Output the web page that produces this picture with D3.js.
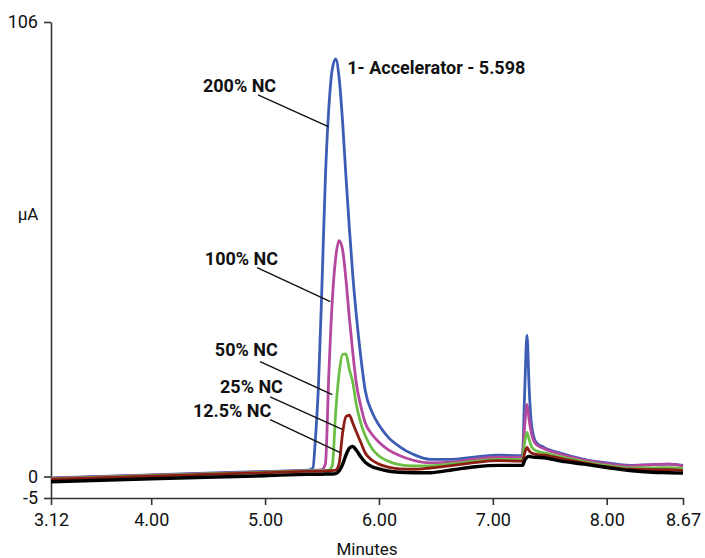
<!DOCTYPE html>
<html>
<head>
<meta charset="utf-8">
<script src="https://cdn.jsdelivr.net/npm/d3@7"></script>
<style>
  body { margin: 0; background: #fff; }
  svg text { font-family: Roboto, "Liberation Sans Narrow", "DejaVu Sans Condensed", sans-serif; fill: #111; }
</style>
</head>
<body>
<div id="chart"></div>
<script>
  var width = 705, height = 558;

  // retention time grid (minutes), shared by all traces
  var times = [3.12, 4.00, 5.00, 5.38, 5.42, 5.44, 5.47, 5.50, 5.53, 5.56, 5.59, 5.62, 5.65, 5.68, 5.71,
    5.74, 5.77, 5.80, 5.84, 5.88, 5.94, 6.00, 6.08, 6.18, 6.30, 6.45, 6.65, 6.85, 7.05, 7.24,
    7.26, 7.28, 7.30, 7.32, 7.34, 7.38, 7.45, 7.60, 7.80, 8.00, 8.20, 8.40, 8.55, 8.67];

  // detector response (µA)
  var nc200 = [-0.3, 0.4, 1.2, 1.5, 2.0, 8, 22, 45, 70, 86, 95, 97.4, 93, 83, 70,
    58, 47, 38, 28, 20, 15, 12, 9.2, 7.0, 5.2, 4.0, 4.0, 4.6, 5.0, 4.9,
    5.0, 20, 33, 20, 12, 8, 6.8, 5.4, 4.0, 3.2, 2.6, 2.8, 2.9, 2.6];
  var nc100 = [-0.4, 0.3, 1.1, 1.4, 1.4, 1.5, 1.5, 1.6, 3, 24, 41, 51, 55, 53, 46,
    37, 29, 22, 16.5, 12.5, 9.8, 8.0, 6.3, 4.9, 3.8, 3.2, 3.4, 4.1, 4.5, 4.5,
    4.6, 12, 16.8, 13, 10, 7.5, 6.5, 5.2, 3.9, 3.0, 2.5, 2.8, 2.9, 2.5];
  var nc50 = [-0.5, 0.2, 1.0, 1.3, 1.3, 1.3, 1.3, 1.4, 1.4, 1.5, 2.5, 15, 24, 28.5, 28.6,
    25, 22, 17, 12.5, 9.5, 6.5, 4.8, 3.6, 2.8, 2.5, 2.5, 3.0, 3.6, 4.0, 4.0,
    4.0, 8, 10.3, 8.5, 7, 6, 5.5, 4.6, 3.5, 2.6, 2.0, 2.0, 2.1, 1.9];
  var nc25 = [-0.6, 0.1, 0.9, 1.2, 1.2, 1.2, 1.2, 1.2, 1.3, 1.3, 1.4, 1.5, 3, 10, 14,
    14.3, 12.5, 10.5, 8, 5.5, 3.8, 2.9, 2.2, 1.8, 1.7, 2.0, 2.6, 3.3, 3.7, 3.6,
    3.6, 5.5, 6.8, 6, 5.5, 5.2, 5.0, 4.2, 3.2, 2.3, 1.7, 1.6, 1.6, 1.4];
  var nc12 = [-1.2, -0.5, 0.2, 0.5, 0.5, 0.5, 0.5, 0.5, 0.6, 0.6, 0.6, 0.7, 1.3, 2.8, 5,
    6.6, 7.0, 6.2, 4.6, 3.3, 2.3, 1.8, 1.3, 1.0, 0.9, 0.9, 1.6, 2.3, 2.6, 2.6,
    2.6, 3.8, 4.5, 4.7, 4.6, 4.5, 4.4, 3.6, 2.9, 2.1, 1.4, 1.0, 0.9, 0.8];

  var seriesNames = ["200% NC", "100% NC", "50% NC", "25% NC", "12.5% NC"];
  var seriesValues = [nc200, nc100, nc50, nc25, nc12];
  var seriesColors = ["#3d5db5", "#b4479e", "#6cbf45", "#8c1d15", "#000000"];

  // annotation labels: [time, value] of label, leader start, leader end
  var labelPos = [[4.454, 89.7], [4.471, 49.4], [4.559, 28.0], [4.604, 19.6], [4.366, 14.0]];
  var leaderFrom = [[4.938, 89.0], [4.930, 48.7], [4.956, 26.8], [5.044, 18.6], [5.044, 13.3]];
  var leaderTo = [[5.555, 81.6], [5.573, 40.8], [5.590, 19.1], [5.678, 11.0], [5.661, 5.6]];
  var peakLabel = "1- Accelerator - 5.598";
  var peakLabelPos = [5.722, 93.9];

  var xTicks = [3.12, 4.00, 5.00, 6.00, 7.00, 8.00, 8.67];
  var yTicks = [-5, 0, 106];

  var svg = d3.select("#chart").append("svg")
    .attr("width", width)
    .attr("height", height);

  var x = d3.scaleLinear().domain([3.12, 8.67]).range([51, 683]);
  var y = d3.scaleLinear().domain([-5, 106]).range([498, 22]);

  //axes
  var xAxis = svg.append("g")
    .attr("transform", "translate(0," + y(-5) + ")")
    .call(d3.axisBottom(x).tickValues(xTicks).tickFormat(d3.format(".2f")).tickSize(7).tickPadding(8).tickSizeOuter(0));
  var yAxis = svg.append("g")
    .attr("transform", "translate(" + x(3.12) + ",0)")
    .call(d3.axisLeft(y).tickValues(yTicks).tickFormat(function(d) { return String(d); }).tickSize(7).tickPadding(6).tickSizeOuter(0));

  [xAxis, yAxis].forEach(function(g) {
    g.select(".domain").attr("stroke", "#333").attr("stroke-width", 1.6);
    g.selectAll(".tick line").attr("stroke", "#333").attr("stroke-width", 1.6);
    g.selectAll(".tick text").style("font-size", "18px").attr("fill", "#222");
  });

  svg.append("text")
    .attr("x", (x(3.12) + x(8.67)) / 2)
    .attr("y", 555)
    .attr("text-anchor", "middle")
    .style("font-size", "17px")
    .text("Minutes");

  svg.append("text")
    .attr("x", 28)
    .attr("y", 220)
    .attr("text-anchor", "middle")
    .style("font-size", "17px")
    .text("µA");

  //traces
  var line = d3.line()
    .x(function(d, i) { return x(times[i]); })
    .y(function(d) { return y(d); })
    .curve(d3.curveMonotoneX);

  svg.selectAll("path.trace")
    .data(seriesValues)
    .enter().append("path")
    .attr("class", "trace")
    .attr("d", line)
    .attr("fill", "none")
    .attr("stroke", function(d, i) { return seriesColors[i]; })
    .attr("stroke-width", function(d, i) { return i == 4 ? 3.4 : 2.8; })
    .attr("stroke-linejoin", "round");

  //labels and leader lines
  svg.selectAll("line.leader")
    .data(seriesNames)
    .enter().append("line")
    .attr("class", "leader")
    .attr("x1", function(d, i) { return x(leaderFrom[i][0]); })
    .attr("y1", function(d, i) { return y(leaderFrom[i][1]); })
    .attr("x2", function(d, i) { return x(leaderTo[i][0]); })
    .attr("y2", function(d, i) { return y(leaderTo[i][1]); })
    .attr("stroke", "#111")
    .attr("stroke-width", 1.4);

  svg.selectAll("text.nc")
    .data(seriesNames)
    .enter().append("text")
    .attr("class", "nc")
    .attr("x", function(d, i) { return x(labelPos[i][0]); })
    .attr("y", function(d, i) { return y(labelPos[i][1]); })
    .style("font-size", "18px")
    .style("font-weight", "bold")
    .text(function(d) { return d; });

  svg.append("text")
    .attr("x", x(peakLabelPos[0]))
    .attr("y", y(peakLabelPos[1]))
    .style("font-size", "18px")
    .style("font-weight", "bold")
    .text(peakLabel);
</script>
</body>
</html>
